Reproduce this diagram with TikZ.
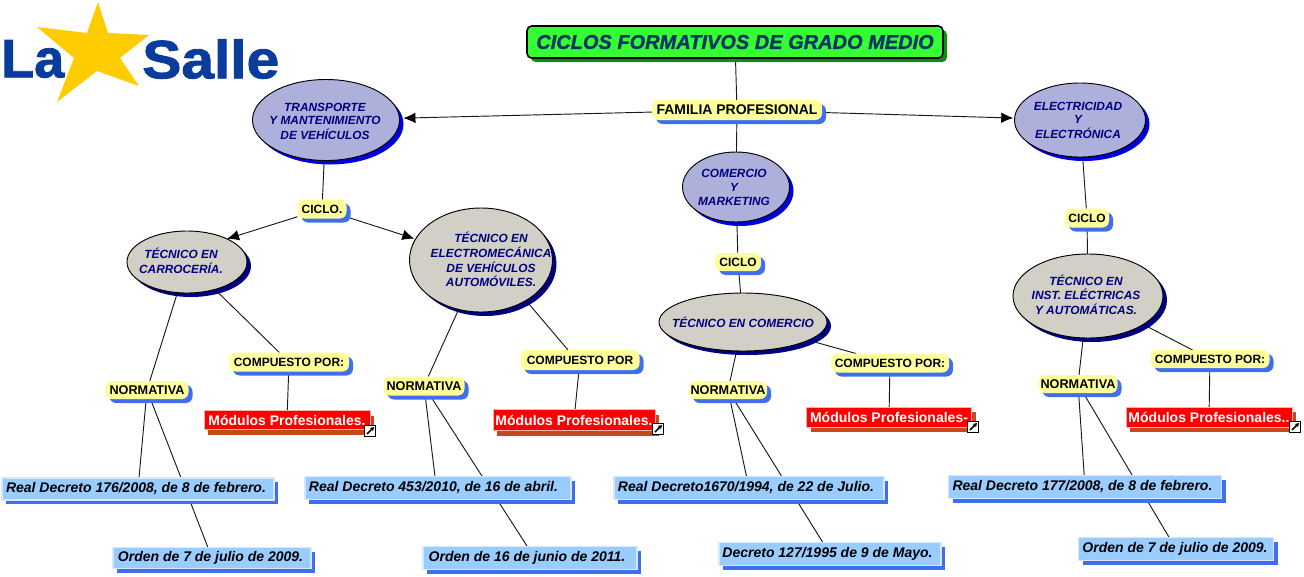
\documentclass[tikz,border=0pt]{standalone}
\usepackage{fontspec}
\setmainfont{Liberation Sans}
\newfontface\heavyit{Liberation Sans Bold Italic}[FakeBold=1.2]
\newfontface\heavy{Liberation Sans Bold}[FakeBold=1.6]
\usetikzlibrary{shapes.geometric,shadows,arrows.meta,backgrounds}
\definecolor{navytxt}{HTML}{000080}
\definecolor{titletxt}{HTML}{003366}
\definecolor{lblue}{HTML}{3F6FEE}
\definecolor{titlefill}{HTML}{33FF33}
\definecolor{titleshadow}{HTML}{0E8F0E}
\definecolor{lblfill}{HTML}{FFFF99}
\definecolor{famfill}{HTML}{AEB0DC}
\definecolor{famshadow}{HTML}{0000DD}
\definecolor{tecfill}{HTML}{D2CFC6}
\definecolor{tecshadow}{HTML}{000080}
\definecolor{modshadow}{HTML}{C8481E}
\definecolor{normfill}{HTML}{99CCFF}
\definecolor{normedge}{HTML}{D4E8FF}
\definecolor{modedge}{HTML}{FFB0B0}
\definecolor{logoblue}{HTML}{0A3C9C}
\definecolor{stargold}{HTML}{FFCC00}
% text of an oval, shifted by #1 and #2 pixels, so that the text does not size the ellipse
\newcommand{\ovt}[3]{\raisebox{\dimexpr-0.3em-#2\dimexpr0.75pt\relax\relax}[0pt][0pt]{\hspace*{#1\dimexpr1.5pt\relax}\makebox[0pt]{\begin{tabular}{@{}c@{}}#3\end{tabular}}}}
% text of a blue box, moved #1 pixels to the left and 1 pixel down
\newcommand{\nbt}[2]{\hspace*{-#1\dimexpr1.5pt\relax}\raisebox{-0.75pt}{#2}}
\tikzset{
 x=0.75pt,y=-0.75pt,
 size/.style 2 args={minimum width=#1*0.75pt,minimum height=#2*0.75pt,inner sep=0pt,outer sep=0pt},
 titlebox/.style={draw=black,line width=1.2pt,fill=titlefill,rounded corners=3.5pt,
   font=\fontsize{15}{16}\heavyit,text=titletxt,
   drop shadow={shadow xshift=3pt,shadow yshift=-3pt,fill=titleshadow,opacity=1}},
 lbl/.style={fill=lblfill,rounded corners=5pt,font=\fontsize{9}{11}\selectfont\bfseries,text=black,
   drop shadow={shadow xshift=3pt,shadow yshift=-3pt,fill=lblue,opacity=1}},
 famlbl/.style={lbl,font=\fontsize{10.5}{12}\selectfont\bfseries},
 normlbl/.style={lbl,font=\fontsize{9.5}{11}\selectfont\bfseries},
 oval/.style={ellipse,draw=black,line width=0.7pt,
   font=\fontsize{8.9}{10.4}\selectfont\bfseries\itshape,text=navytxt},
 famoval/.style={oval,fill=famfill,
   drop shadow={shadow xshift=3pt,shadow yshift=-3pt,fill=famshadow,opacity=1}},
 tecoval/.style={oval,fill=tecfill,
   drop shadow={shadow xshift=3pt,shadow yshift=-3pt,fill=tecshadow,opacity=1}},
 modbox/.style={draw=modedge,line width=0.5pt,fill=red,text=white,font=\fontsize{10.5}{12}\selectfont\bfseries,
   drop shadow={shadow xshift=3pt,shadow yshift=-4pt,fill=modshadow,opacity=1}},
 normbox/.style={draw=normedge,line width=0.8pt,fill=normfill,text=black,font=\fontsize{10.5}{12}\selectfont\bfseries\itshape,
   drop shadow={shadow xshift=3pt,shadow yshift=-3pt,fill=lblue,opacity=1}},
 iconbox/.style={draw=black,line width=0.8pt,fill=white,size={11}{11}},
 conn/.style={draw=black!90,line width=0.7pt},
 arr/.style={conn,-{Latex[length=9pt,width=8pt,black]},shorten >=1pt},
 iconarrow/.style={-{Stealth[length=3pt,width=3.5pt]},line width=1.1pt},
}
\begin{document}
\begin{tikzpicture}
\useasboundingbox (0,0) rectangle (1304,576);
% logo
\node[inner sep=0pt,anchor=west,text=logoblue,font=\fontsize{44}{44}\heavy,xscale=0.92,yscale=0.92] (la) at (1,59) {La};
\node[inner sep=0pt,anchor=west,text=logoblue,font=\fontsize{44}{44}\heavy,yscale=0.92] (salle) at (142,59) {Salle};
\fill[stargold] (98,2)--(108,33)--(149,35)--(120,58)--(139,86)--(97,71)--(57,102)--(74,58)--(37,27)--(87,33)--cycle;
% nodes
\node[titlebox,size={416}{32}] (title) at (735,42) {CICLOS FORMATIVOS DE GRADO MEDIO};
\node[famlbl,size={170}{20}] (fam) at (737,110) {FAMILIA PROFESIONAL};
\node[famoval,size={147}{81}] (tr) at (326,120) {\ovt{-1}{2}{TRANSPORTE\\Y MANTENIMIENTO\\DE VEHÍCULOS}};
\node[famoval,size={107}{70}] (co) at (736,187) {\ovt{-2}{1}{COMERCIO\\Y\\MARKETING}};
\node[famoval,size={131}{74}] (el) at (1080,120) {\ovt{-2}{1}{ELECTRICIDAD\\Y\\ELECTRÓNICA}};
\node[lbl,size={49}{19}] (c1) at (322,209) {CICLO.};
\node[lbl,size={46}{18}] (c2) at (738,262) {CICLO};
\node[lbl,size={44}{19}] (c3) at (1087,218) {CICLO};
\node[tecoval,size={120}{62}] (t1) at (187,262) {\ovt{-6}{0}{TÉCNICO EN\\CARROCERÍA.}};
\node[tecoval,size={143}{104}] (t2) at (481,260) {\ovt{10}{1}{TÉCNICO EN\\ELECTROMECÁNICA\\DE VEHÍCULOS\\ AUTOMÓVILES.}};
\node[tecoval,size={168}{58}] (t3) at (743,322) {\ovt{0}{2}{TÉCNICO EN COMERCIO}};
\node[tecoval,size={150}{84}] (t4) at (1088,296) {\ovt{-2}{0}{TÉCNICO EN\\INST. ELÉCTRICAS\\Y AUTOMÁTICAS.}};
\node[normlbl,size={83}{18}] (n1) at (147,390) {NORMATIVA};
\node[normlbl,size={81}{19}] (n2) at (424,386) {NORMATIVA};
\node[normlbl,size={78}{18}] (n3) at (728,390) {NORMATIVA};
\node[normlbl,size={79}{18}] (n4) at (1078,384) {NORMATIVA};
\node[lbl,size={120}{19}] (p1) at (289,362) {COMPUESTO POR:};
\node[lbl,size={119}{20}] (p2) at (580,360) {COMPUESTO POR};
\node[lbl,size={118}{19}] (p3) at (890,363) {COMPUESTO POR:};
\node[lbl,size={119}{18}] (p4) at (1210,359) {COMPUESTO POR:};
\node[modbox,size={166}{19}] (m1) at (287,420) {Módulos Profesionales.};
\node[modbox,size={162}{21}] (m2) at (574,420) {Módulos Profesionales.};
\node[modbox,size={165}{20}] (m3) at (889,417) {Módulos Profesionales-};
\node[modbox,size={166}{20}] (m4) at (1209,417) {Módulos Profesionales..};
\node[iconbox] (i1) at (370,431) {};
\node[iconbox] (i2) at (658,429) {};
\node[iconbox] (i3) at (973,427) {};
\node[iconbox] (i4) at (1295,427) {};
\foreach \k in {i1,i2,i3,i4}{\draw[iconarrow] ([shift={(-3,3)}]\k.center) -- ([shift={(4,-4)}]\k.center);}
\node[normbox,size={272}{22}] (r1) at (138,489) {\nbt{2}{Real Decreto 176/2008, de 8 de febrero.}};
\node[normbox,size={198}{21}] (o1) at (212,558) {\nbt{1.5}{Orden de 7 de julio de 2009.}};
\node[normbox,size={266}{23}] (r2) at (438,488) {\nbt{4.5}{Real Decreto 453/2010, de 16 de abril.}};
\node[normbox,size={214}{23}] (o2) at (530,558) {\nbt{3}{Orden de 16 de junio de 2011.}};
\node[normbox,size={270}{23}] (r3) at (749,488) {\nbt{3}{Real Decreto1670/1994, de 22 de Julio.}};
\node[normbox,size={222}{23}] (o3) at (830,554) {\nbt{2.5}{Decreto 127/1995 de 9 de Mayo.}};
\node[normbox,size={273}{23}] (r4) at (1085,487) {\nbt{2.5}{Real Decreto 177/2008, de 8 de febrero.}};
\node[normbox,size={195}{23}] (o4) at (1176,549) {\nbt{1}{Orden de 7 de julio de 2009.}};
% connectors
\begin{scope}[on background layer]
\draw[conn] (title) -- (fam);
\draw[arr,shorten >=3pt] (fam) -- (tr);
\draw[arr] (fam) -- (el);
\draw[conn] (fam) -- (co);
\draw[conn] (tr) -- (c1);
\draw[arr,shorten >=0pt] (c1) -- (t1.30);
\draw[arr] (c1) -- (t2);
\draw[conn] (co) -- (c2);
\draw[conn] (c2) -- (t3);
\draw[conn] (el) -- (c3);
\draw[conn] (c3) -- (t4);
\draw[conn] (t1) -- (n1);
\draw[conn] (t1) -- (p1);
\draw[conn] (t2) -- (n2);
\draw[conn] (t2.-42) -- ([xshift=-9pt]p2.north);
\draw[conn] (t3) -- (n3);
\draw[conn] (t3) -- (p3);
\draw[conn] (t4) -- (n4);
\draw[conn] (t4) -- (p4);
\draw[conn] (p1) -- (m1);
\draw[conn] (p2) -- (m2);
\draw[conn] (p3) -- (m3);
\draw[conn] (p4) -- (m4);
\draw[conn] (n1) -- (r1);
\draw[conn] (n1) -- (o1);
\draw[conn] (n2) -- ([xshift=-2.25pt]r2.north);
\draw[conn] (n2) -- ([xshift=-2pt]o2.north);
\draw[conn] (n3) -- (r3);
\draw[conn] (n3) -- (o3);
\draw[conn] (n4) -- (r4);
\draw[conn] (n4) -- (o4);
\end{scope}
\end{tikzpicture}
\end{document}
